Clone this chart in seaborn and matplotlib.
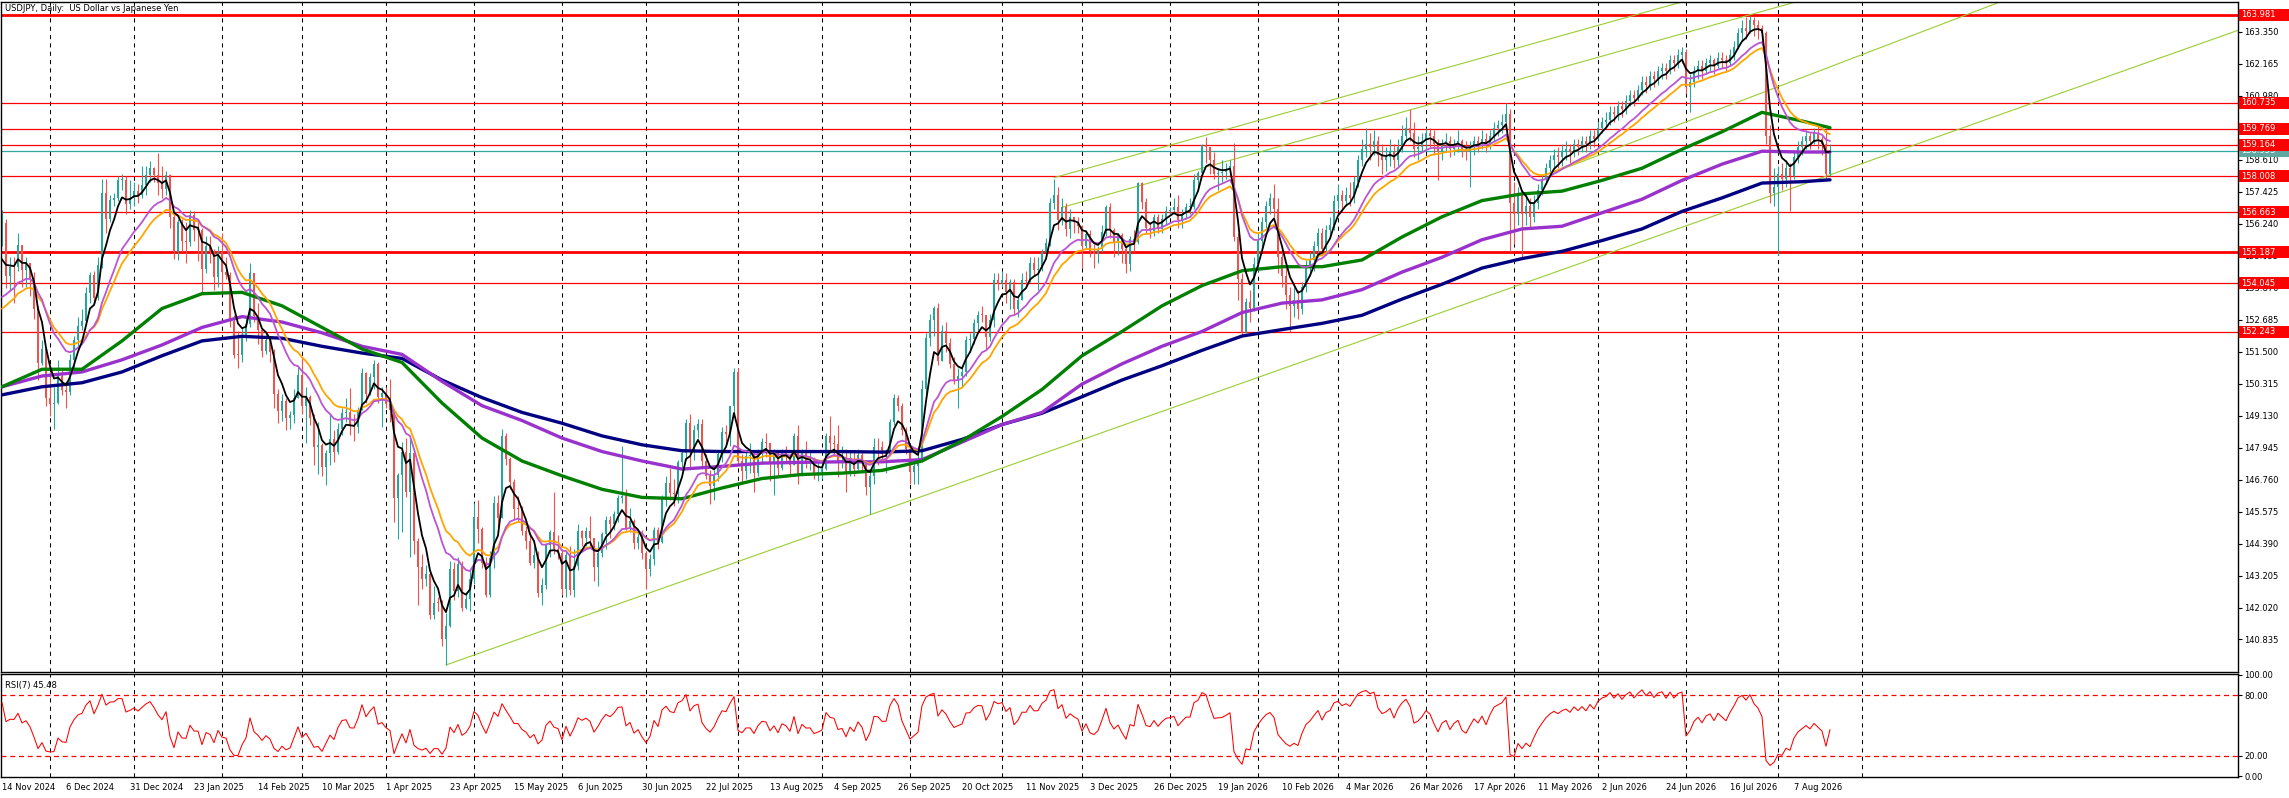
import numpy as np
import pandas as pd
import matplotlib as mpl; mpl.use("Agg")
import matplotlib.pyplot as plt
import matplotlib.transforms as mtransforms
from matplotlib.patches import Rectangle
import seaborn as sns

sns.set_style("white")
plt.rcParams["font.family"] = ["DejaVu Sans"]

# closes before the first visible bar, only used to start the indicators
close_before = [150.05, 149.53, 150.87, 151.07, 152.72, 151.84, 152.31, 153.33, 153.39, 153.40,
                152.03, 152.98, 152.16, 151.60, 154.65, 152.97, 152.64, 153.72, 154.62, 155.47]

# USDJPY daily, 14 Nov 2024 .. 20 Aug 2026 (one line per month)
close = [
    156.26, 154.30, 154.65, 154.63, 155.44, 154.53, 154.77, 154.22, 153.07, 151.09, 151.60, 149.77,
    149.58, 149.60, 150.61, 150.07, 149.99, 151.19, 151.92, 152.46, 152.63, 153.67, 154.36, 153.49, 154.71, 157.39, 156.41, 157.13, 157.18, 157.88, 157.88, 156.97, 157.20,
    157.47, 157.30, 157.66, 158.05, 158.30, 158.06, 157.75, 157.53, 158.04, 156.50, 155.18, 156.30, 155.60, 155.56, 156.55, 156.02, 156.01, 154.55, 155.42, 155.23, 154.28, 155.19,
    154.45, 154.34, 152.63, 151.38, 151.37, 152.03, 152.52, 154.43, 152.82, 152.31, 151.53, 151.95, 151.49, 149.95, 149.29, 149.67, 149.03, 149.14, 149.80, 150.64,
    149.49, 149.82, 149.06, 147.98, 148.04, 147.24, 147.73, 148.25, 147.80, 148.64, 149.21, 149.28, 148.73, 148.71, 149.33, 150.70, 149.95, 150.56, 151.05, 149.82, 149.96,
    149.56, 149.35, 146.06, 146.92, 147.79, 146.29, 147.76, 144.50, 143.53, 143.06, 143.25, 141.75, 142.20, 142.19, 140.86, 141.34, 143.45, 142.63, 143.64, 142.02, 142.34, 143.08,
    145.38, 144.93, 143.68, 142.50, 143.87, 145.89, 145.35, 148.38, 147.51, 146.66, 145.68, 145.67, 144.86, 144.50, 143.67, 143.98, 142.55, 142.86, 144.32, 144.82, 144.18, 144.03,
    142.70, 143.98, 142.68, 143.54, 144.86, 144.59, 144.86, 144.58, 143.52, 144.04, 144.73, 145.28, 145.11, 145.48, 146.09, 146.14, 144.98, 145.24, 144.41, 144.64, 144.03,
    143.46, 143.80, 144.90, 144.46, 146.10, 146.63, 146.28, 146.21, 147.42, 147.73, 148.86, 147.83, 148.58, 148.81, 147.44, 146.88, 146.51, 146.93, 147.70, 148.52, 148.46, 149.50, 150.73,
    147.44, 147.09, 147.63, 147.64, 147.01, 147.73, 148.15, 148.10, 147.38, 147.75, 147.18, 147.83, 147.69, 147.29, 148.39, 146.94, 147.75, 147.41, 147.43, 146.96, 147.05,
    147.16, 148.39, 148.12, 148.07, 147.42, 147.48, 146.95, 147.43, 147.17, 147.68, 147.40, 146.48, 146.88, 147.98, 147.95, 147.71, 147.72, 148.91, 149.78, 149.50, 148.58, 147.91,
    147.06, 147.27, 147.47, 150.12, 152.01, 152.67, 153.13, 151.17, 152.27, 151.84, 151.06, 150.40, 150.59, 150.74, 151.94, 151.98, 152.58, 152.87, 152.85, 152.05, 152.66, 154.15, 154.02,
    154.17, 153.72, 154.10, 153.07, 153.42, 154.14, 154.13, 154.80, 154.54, 154.55, 155.20, 155.52, 157.00, 157.30, 156.39, 156.86, 156.05, 156.48, 156.30, 156.17,
    155.43, 155.88, 155.25, 155.13, 155.32, 155.92, 156.85, 156.02, 155.57, 155.83, 155.30, 154.75, 155.66, 155.56, 157.77, 157.06, 156.08, 155.96, 156.51, 156.05, 156.43, 156.70,
    156.75, 156.85, 156.37, 156.62, 156.86, 156.86, 157.88, 158.12, 159.15, 159.07, 158.60, 158.10, 158.13, 158.15, 158.26, 158.38, 155.74, 154.18, 152.20, 153.36, 153.12, 154.75,
    155.60, 156.30, 156.90, 157.20, 156.80, 155.00, 154.30, 153.60, 153.20, 153.40, 153.10, 153.90, 154.60, 154.90, 155.40, 155.90, 155.30, 156.00, 156.20, 157.10,
    157.30, 157.10, 157.30, 157.20, 157.80, 158.60, 159.00, 159.20, 159.10, 159.30, 158.80, 158.60, 158.70, 158.90, 158.60, 159.10, 159.50, 159.80, 159.60, 159.00, 159.10, 159.30,
    159.60, 159.50, 159.20, 158.90, 159.20, 159.30, 159.00, 159.20, 159.30, 159.00, 158.90, 159.10, 159.30, 159.20, 159.40, 159.20, 159.50, 159.80, 159.90, 160.00, 160.30, 157.00,
    156.60, 157.30, 156.60, 156.90, 156.50, 157.00, 157.50, 157.90, 158.30, 158.60, 158.80, 158.70, 158.90, 159.00, 158.90, 159.20, 159.10, 159.30, 159.20, 159.50, 159.40,
    159.80, 160.00, 160.10, 160.40, 160.30, 160.60, 160.50, 160.80, 161.00, 160.90, 161.20, 161.50, 161.40, 161.70, 161.60, 161.90, 162.00, 161.90, 162.30, 162.20, 162.50, 162.60,
    161.30, 161.50, 161.90, 162.10, 161.90, 162.20, 162.30, 162.10, 162.40, 162.30, 162.20, 162.50, 162.80, 163.30, 163.50, 163.40, 163.80, 163.60, 163.50, 163.30, 159.50, 157.40, 157.60,
    158.10, 157.90, 158.30, 158.00, 158.70, 159.10, 159.30, 159.50, 159.30, 159.60, 159.40, 159.20, 158.10, 158.953,
]
high = [
    156.75, 156.40, 155.00, 155.00, 155.89, 155.30, 155.00, 154.70, 154.45, 153.20, 151.95, 151.65,
    150.75, 150.20, 151.20, 150.90, 150.40, 151.40, 152.10, 152.80, 153.10, 153.90, 154.45, 154.50, 155.00, 157.90, 157.90, 157.30, 157.40, 158.00, 158.08, 158.00, 157.85,
    157.80, 157.70, 158.40, 158.40, 158.55, 158.35, 158.87, 158.40, 158.20, 158.10, 156.70, 156.40, 156.40, 156.30, 156.75, 156.70, 156.40, 156.10, 155.80, 155.80, 155.30, 155.40,
    155.90, 155.00, 154.45, 152.85, 152.25, 152.40, 152.75, 154.80, 154.40, 153.30, 152.30, 152.20, 152.00, 151.60, 150.10, 149.95, 149.80, 149.30, 150.10, 150.95,
    151.30, 150.20, 149.90, 149.20, 148.90, 148.10, 147.85, 149.20, 148.60, 148.85, 149.40, 149.80, 150.15, 149.20, 149.45, 150.90, 150.75, 150.70, 151.20, 151.10, 150.20,
    150.20, 150.50, 149.30, 147.00, 148.15, 148.30, 148.25, 147.90, 144.60, 144.00, 143.60, 143.40, 142.80, 142.40, 142.30, 141.80, 143.75, 143.70, 143.90, 143.75, 142.60, 143.40,
    145.90, 146.00, 145.00, 143.90, 144.10, 146.15, 146.20, 148.65, 148.50, 147.60, 146.80, 146.15, 145.80, 145.05, 144.80, 144.30, 144.10, 143.10, 144.40, 144.90, 146.30, 144.70,
    144.20, 144.10, 144.30, 144.20, 145.10, 144.90, 145.00, 145.40, 144.60, 144.50, 144.80, 145.40, 145.40, 145.60, 146.20, 148.00, 146.40, 145.70, 145.30, 144.80, 144.90,
    144.10, 144.00, 145.00, 145.00, 146.20, 146.90, 147.20, 146.80, 147.50, 147.90, 149.00, 149.20, 148.80, 149.00, 149.00, 147.70, 147.10, 147.10, 147.80, 148.70, 148.80, 149.50, 150.90,
    150.90, 147.70, 147.80, 148.10, 147.80, 147.90, 148.30, 148.50, 148.10, 147.90, 147.80, 147.90, 148.00, 147.70, 148.50, 148.80, 147.90, 148.20, 147.80, 147.60, 147.40,
    147.50, 148.50, 149.10, 148.40, 148.80, 148.00, 147.90, 147.80, 147.80, 147.90, 147.80, 147.40, 147.10, 148.30, 148.30, 148.20, 147.90, 149.00, 149.95, 149.90, 149.60, 148.70,
    148.00, 147.50, 147.90, 150.45, 152.20, 152.90, 153.20, 153.30, 152.50, 152.60, 152.00, 151.30, 150.90, 151.00, 152.10, 152.20, 152.70, 153.00, 153.20, 152.80, 152.90, 154.40, 154.40,
    154.50, 154.40, 154.20, 154.20, 153.60, 154.40, 154.50, 155.00, 155.00, 155.00, 155.30, 155.70, 157.20, 157.89, 157.60, 157.20, 157.00, 156.80, 156.50, 156.50,
    156.20, 156.00, 156.00, 155.50, 155.40, 156.20, 156.95, 157.00, 156.10, 155.90, 155.90, 155.40, 155.80, 156.00, 157.80, 157.80, 157.20, 156.30, 156.60, 156.60, 156.60, 156.90,
    156.85, 157.20, 157.30, 156.80, 157.00, 157.20, 158.10, 158.20, 159.20, 159.45, 159.10, 158.90, 158.30, 158.60, 158.50, 158.60, 159.23, 155.90, 154.40, 153.50, 153.80, 155.00,
    155.90, 156.50, 157.10, 157.40, 157.70, 157.20, 155.30, 154.60, 153.90, 153.90, 153.80, 154.10, 154.90, 155.20, 155.60, 156.10, 156.10, 156.20, 156.50, 157.30,
    157.70, 157.50, 157.60, 157.80, 158.00, 158.80, 159.40, 159.80, 159.60, 159.70, 159.50, 159.20, 159.10, 159.40, 159.20, 159.40, 159.90, 160.20, 160.50, 160.00, 159.50, 159.60,
    159.80, 159.80, 159.70, 159.40, 159.40, 159.60, 159.50, 159.40, 159.70, 159.40, 159.30, 159.30, 159.50, 159.50, 159.70, 159.60, 159.70, 160.00, 160.10, 160.30, 160.73, 160.50,
    157.80, 157.60, 157.50, 157.30, 157.20, 157.30, 157.70, 158.10, 158.50, 158.80, 159.00, 159.10, 159.20, 159.30, 159.20, 159.40, 159.40, 159.50, 159.50, 159.70, 159.70,
    160.00, 160.20, 160.40, 160.60, 160.60, 160.80, 160.80, 161.00, 161.20, 161.20, 161.40, 161.70, 161.70, 161.90, 161.90, 162.10, 162.20, 162.20, 162.50, 162.50, 162.70, 162.80,
    162.70, 161.80, 162.10, 162.30, 162.30, 162.40, 162.50, 162.40, 162.60, 162.60, 162.50, 162.70, 163.00, 163.50, 163.80, 163.90, 163.94, 163.90, 163.80, 163.60, 163.40, 159.90, 158.30,
    158.40, 158.50, 158.60, 158.50, 158.90, 159.30, 159.50, 159.70, 159.60, 159.80, 159.90, 159.50, 159.70, 159.20,
]
low = [
    155.40, 153.86, 153.80, 153.30, 154.50, 153.90, 153.90, 153.55, 152.70, 150.45, 151.00, 149.50,
    149.10, 148.65, 149.55, 149.90, 149.40, 149.90, 150.90, 151.60, 152.30, 152.80, 153.30, 153.30, 153.40, 154.60, 155.90, 156.30, 156.90, 157.10, 157.50, 156.60, 156.80,
    156.90, 157.00, 157.20, 157.30, 157.80, 157.80, 157.30, 157.20, 157.30, 156.10, 154.95, 154.90, 155.20, 154.80, 155.40, 155.60, 154.85, 153.70, 154.40, 154.80, 153.80, 153.90,
    153.70, 154.20, 152.40, 151.25, 150.90, 151.10, 151.90, 152.40, 152.60, 151.80, 151.30, 151.40, 151.10, 149.40, 148.85, 148.95, 148.60, 148.65, 148.85, 149.80,
    149.20, 148.10, 148.80, 147.30, 146.95, 146.90, 146.55, 147.30, 147.40, 147.70, 148.40, 148.90, 148.40, 148.20, 148.50, 149.40, 149.60, 149.90, 150.10, 149.60, 148.70,
    149.40, 148.90, 145.20, 144.55, 144.80, 146.10, 143.90, 144.00, 142.10, 142.70, 142.80, 141.60, 141.60, 141.90, 140.60, 139.89, 141.30, 142.30, 142.40, 141.90, 141.95, 141.90,
    142.90, 144.40, 143.50, 142.40, 142.40, 143.50, 145.00, 145.40, 147.30, 146.40, 145.30, 145.20, 144.70, 144.20, 143.60, 143.50, 142.40, 142.10, 142.70, 143.90, 144.00, 143.80,
    142.50, 142.40, 142.50, 142.40, 143.40, 144.30, 144.30, 144.30, 143.00, 142.80, 143.90, 144.20, 144.60, 144.90, 145.20, 145.90, 144.90, 144.80, 144.20, 144.20, 143.80,
    142.70, 143.20, 143.60, 144.20, 144.40, 145.80, 146.00, 145.80, 145.90, 147.20, 147.50, 147.20, 147.50, 148.30, 147.20, 146.80, 145.85, 146.00, 146.70, 147.40, 148.00, 148.00, 149.20,
    147.30, 146.60, 146.80, 147.00, 146.30, 146.90, 147.40, 147.60, 146.70, 146.20, 146.90, 147.10, 147.40, 146.90, 147.30, 146.60, 146.90, 147.20, 147.10, 146.80, 146.70,
    146.80, 147.10, 147.80, 147.70, 146.85, 147.20, 146.30, 146.90, 146.90, 147.10, 147.10, 146.20, 145.49, 146.60, 147.30, 147.50, 147.00, 147.70, 148.80, 149.30, 148.40, 147.70,
    146.60, 146.60, 146.60, 147.40, 149.80, 151.70, 152.10, 151.00, 151.30, 151.50, 150.90, 150.30, 149.40, 150.20, 150.60, 151.50, 151.80, 152.20, 152.60, 151.60, 151.90, 152.40, 153.80,
    153.90, 153.30, 153.10, 152.90, 152.80, 153.40, 153.90, 154.10, 154.30, 153.80, 154.50, 155.00, 155.40, 156.80, 156.00, 156.20, 155.80, 155.70, 155.90, 155.90,
    154.60, 155.30, 155.00, 154.60, 154.80, 155.20, 155.80, 155.70, 155.00, 155.10, 154.80, 154.40, 154.50, 155.20, 155.50, 156.80, 155.90, 155.70, 155.80, 155.90, 155.90, 156.20,
    156.60, 156.60, 156.10, 156.10, 156.40, 156.60, 156.80, 157.50, 158.00, 158.50, 158.10, 157.90, 157.50, 157.80, 157.90, 158.00, 155.60, 153.40, 152.10, 152.20, 152.60, 153.00,
    154.50, 155.30, 156.10, 156.60, 156.50, 154.40, 153.90, 153.10, 152.24, 152.80, 152.70, 152.90, 153.70, 154.30, 154.50, 155.00, 155.10, 155.10, 155.70, 156.00,
    156.80, 156.70, 156.90, 156.90, 157.00, 157.60, 158.40, 158.70, 158.60, 158.80, 158.40, 158.10, 158.20, 158.40, 158.30, 158.40, 158.90, 159.30, 159.30, 158.70, 158.60, 158.90,
    159.00, 159.10, 158.80, 157.85, 158.60, 158.90, 158.70, 158.80, 158.90, 158.70, 158.60, 157.60, 158.80, 158.90, 159.00, 158.90, 159.00, 159.30, 159.50, 159.60, 159.80, 155.20,
    155.50, 156.20, 155.00, 156.20, 156.10, 156.30, 156.80, 157.30, 157.70, 158.00, 158.30, 158.30, 158.40, 158.60, 158.50, 158.70, 158.80, 158.90, 158.90, 159.00, 159.10,
    159.30, 159.60, 159.80, 159.90, 160.00, 160.10, 160.20, 160.30, 160.60, 160.60, 160.80, 161.00, 161.10, 161.20, 161.30, 161.40, 161.60, 161.60, 161.80, 161.90, 162.00, 162.20,
    161.10, 160.40, 161.30, 161.60, 161.60, 161.80, 161.90, 161.80, 162.00, 162.00, 161.90, 162.10, 162.30, 162.70, 163.00, 163.10, 163.30, 163.20, 163.10, 162.90, 159.20, 157.00, 156.90,
    155.10, 157.50, 157.60, 156.70, 157.90, 158.50, 158.80, 159.00, 159.00, 159.20, 159.00, 158.80, 157.90, 158.00,
]

# slow moving averages, every 10 bars
ma_bar = list(range(0, 451, 10)) + [457]
ma_green = [150.2, 150.85, 150.85, 151.9, 153.1, 153.65, 153.7, 153.2, 152.4, 151.6, 151.1, 149.6, 148.3, 147.45,
            146.9, 146.4, 146.1, 146.05, 146.45, 146.8, 146.95, 147.0, 147.1, 147.45, 148.2, 149.1, 150.1, 151.35,
            152.25, 153.2, 153.95, 154.5, 154.65, 154.65, 154.9, 155.75, 156.5, 157.1, 157.35, 157.45, 157.85, 158.3,
            159.0, 159.65, 160.37, 160.05, 159.8]
ma_purple = [150.2, 150.6, 150.75, 151.2, 151.75, 152.4, 152.8, 152.6, 152.2, 151.7, 151.4, 150.4, 149.5, 148.95,
             148.3, 147.8, 147.45, 147.15, 147.25, 147.37, 147.4, 147.42, 147.42, 147.5, 148.15, 148.8, 149.25, 150.3,
             151.05, 151.7, 152.25, 152.95, 153.3, 153.42, 153.8, 154.45, 155.0, 155.65, 156.05, 156.15, 156.65, 157.15,
             157.85, 158.45, 158.93, 158.9, 158.9]
ma_navy = [149.9, 150.2, 150.35, 150.75, 151.35, 151.9, 152.07, 152.0, 151.7, 151.45, 151.25, 150.45, 149.8, 149.25,
           148.85, 148.38, 148.05, 147.83, 147.8, 147.8, 147.8, 147.8, 147.78, 147.83, 148.25, 148.8, 149.22, 149.83,
           150.45, 150.98, 151.55, 152.08, 152.32, 152.55, 152.85, 153.45, 154.0, 154.6, 154.95, 155.22, 155.62, 156.05,
           156.7, 157.2, 157.75, 157.8, 157.87]

# horizontal levels and the last price
levels = [163.981, 160.735, 159.769, 159.164, 158.008, 156.663, 155.187, 154.045, 152.243]
level_lw = [2.0, 0.9, 0.9, 0.9, 0.9, 0.9, 2.0, 0.9, 0.9]
last_price = 158.953

# trend lines (bar, price) at both ends
trend_x = [[111, 559], [263, 559], [265, 559], [388, 559]]
trend_y = [[139.89, 163.41], [157.95, 170.23], [156.85, 169.05], [158.15, 167.83]]

date_labels = ["14 Nov 2024", "6 Dec 2024", "31 Dec 2024", "23 Jan 2025", "14 Feb 2025", "10 Mar 2025",
               "1 Apr 2025", "23 Apr 2025", "15 May 2025", "6 Jun 2025", "30 Jun 2025", "22 Jul 2025",
               "13 Aug 2025", "4 Sep 2025", "26 Sep 2025", "20 Oct 2025", "11 Nov 2025", "3 Dec 2025",
               "26 Dec 2025", "19 Jan 2026", "10 Feb 2026", "4 Mar 2026", "26 Mar 2026", "17 Apr 2026",
               "11 May 2026", "2 Jun 2026", "24 Jun 2026", "16 Jul 2026", "7 Aug 2026"]
price_ticks = [140.835, 142.020, 143.205, 144.390, 145.575, 146.760, 147.945, 149.130, 150.315, 151.500,
               152.685, 153.870, 155.055, 156.240, 157.425, 158.610, 159.795, 160.980, 162.165, 163.350]
rsi_ticks = [0, 20, 80, 100]
rsi_labels = ["0.00", "20.00", "80.00", "100.00"]

BULL, BEAR = "#26A69A", "#EF5350"

close = np.array(close)
n = len(close)
idx = np.arange(n)
opn = np.r_[close_before[-1], close[:-1]]
high = np.maximum(np.array(high), np.maximum(opn, close))
low = np.minimum(np.array(low), np.minimum(opn, close))

full = pd.Series(close_before + list(close))
k0 = len(close_before)
ema5 = full.ewm(span=5, adjust=False).mean().to_numpy()[k0:]
ema15 = full.ewm(span=15, adjust=False).mean().to_numpy()[k0:]
ema20 = full.ewm(span=20, adjust=False).mean().to_numpy()[k0:]
d = full.diff().fillna(0)
gain = d.clip(lower=0).ewm(alpha=1 / 7, adjust=False).mean()
loss = (-d.clip(upper=0)).ewm(alpha=1 / 7, adjust=False).mean()
rsi = (100 - 100 / (1 + gain / loss)).to_numpy()[k0:]

days = pd.bdate_range("2024-11-14", "2026-09-30")
days = days[~days.isin(pd.to_datetime(["2024-12-25", "2025-01-01", "2025-12-25"]))]
month_start = [i for i in range(1, len(days)) if days[i].month != days[i - 1].month and i < n + 12]

W, H = 2289, 798
fig = plt.figure(figsize=(W / 100, H / 100), dpi=100)
ax = fig.add_axes([1 / W, 1 - 672 / H, 2237 / W, 670 / H])
ax2 = fig.add_axes([1 / W, 1 - 777 / H, 2237 / W, 103 / H])

for a in (ax, ax2):
    a.set_xlim(-0.25, 559)
    for m in month_start:
        a.axvline(m, color="black", lw=0.75, ls=(0, (4, 4)), zorder=0)
    for s in a.spines.values():
        s.set_color("black")
        s.set_linewidth(1)

# main panel
for lv, lw in zip(levels, level_lw):
    ax.axhline(lv, color="red", lw=lw, zorder=1)
ax.axhline(last_price, color="#2EA89C", lw=0.9, zorder=1)
for tx, ty in zip(trend_x, trend_y):
    ax.plot(tx, ty, color="#9ACD32", lw=0.8, zorder=1)

col = np.where(close >= opn, BULL, BEAR)
ax.vlines(idx, low, high, colors=col, lw=0.8, zorder=2)
ax.bar(idx, np.maximum(np.abs(close - opn), 0.03), bottom=np.minimum(opn, close),
       width=0.72, color=col, lw=0, zorder=2)

for ys, c in ((ma_navy, "#000080"), (ma_purple, "#9932CC"), (ma_green, "#008000")):
    sns.lineplot(x=ma_bar, y=ys, ax=ax, color=c, lw=2.4, sort=False, legend=False, zorder=3,
                 solid_joinstyle="round", solid_capstyle="round")
sns.lineplot(x=idx, y=ema20, ax=ax, color="#FFA500", lw=1.3, sort=False, legend=False, zorder=4)
sns.lineplot(x=idx, y=ema15, ax=ax, color="#BA55D3", lw=1.3, sort=False, legend=False, zorder=4)
sns.lineplot(x=idx, y=ema5, ax=ax, color="black", lw=1.3, sort=False, legend=False, zorder=5)

ax.set_ylim(139.63, 164.46)
ax.set_xticks([])
ax.yaxis.tick_right()
ax.set_yticks(price_ticks)
ax.set_yticklabels([f"{v:.3f}" for v in price_ticks])
ax.tick_params(axis="y", length=3, width=0.8, labelsize=6, pad=1.5, colors="black")
ax.set_xlabel("")
ax.set_ylabel("")

# red price boxes on the right scale
yx = mtransforms.blended_transform_factory(ax.transAxes, ax.transData)
box_h = 12 / 670 * (164.46 - 139.63)
box_w = 50 / 2237
for lv, fc, z in [(last_price, "#5FA8A2", 8)] + [(lv, "red", 9) for lv in levels]:
    ax.add_patch(Rectangle((1.0005, lv - box_h / 2), box_w, box_h, transform=yx, fc=fc, ec="none",
                           clip_on=False, zorder=z))
    ax.text(1 + 3 / 2237, lv, f"{lv:.3f}", transform=yx, ha="left", va="center", fontsize=6,
            color="white", clip_on=False, zorder=z + 0.5)

ax.text(0.002, 0.997, "USDJPY, Daily:  US Dollar vs Japanese Yen", transform=ax.transAxes,
        ha="left", va="top", fontsize=6, color="black")

# RSI panel
ax2.axhline(80, color="red", lw=0.9, ls=(0, (4, 3)), zorder=1)
ax2.axhline(20, color="red", lw=0.9, ls=(0, (4, 3)), zorder=1)
sns.lineplot(x=idx, y=rsi, ax=ax2, color="red", lw=0.75, sort=False, legend=False, zorder=3)
ax2.set_ylim(-0.7, 100.7)
ax2.yaxis.tick_right()
ax2.set_yticks(rsi_ticks)
ax2.set_yticklabels(rsi_labels)
ax2.tick_params(axis="y", length=3, width=0.8, labelsize=6, pad=1.5, colors="black")
ax2.set_xticks([16 * k for k in range(len(date_labels))])
ax2.set_xticklabels(date_labels, ha="left")
ax2.tick_params(axis="x", length=3, width=0.8, labelsize=6, pad=1, colors="black")
ax2.set_xlabel("")
ax2.set_ylabel("")
ax2.text(0.002, 0.93, "RSI(7) 45.48", transform=ax2.transAxes, ha="left", va="top", fontsize=6, color="black")

fig.savefig("out.png", dpi=100)
